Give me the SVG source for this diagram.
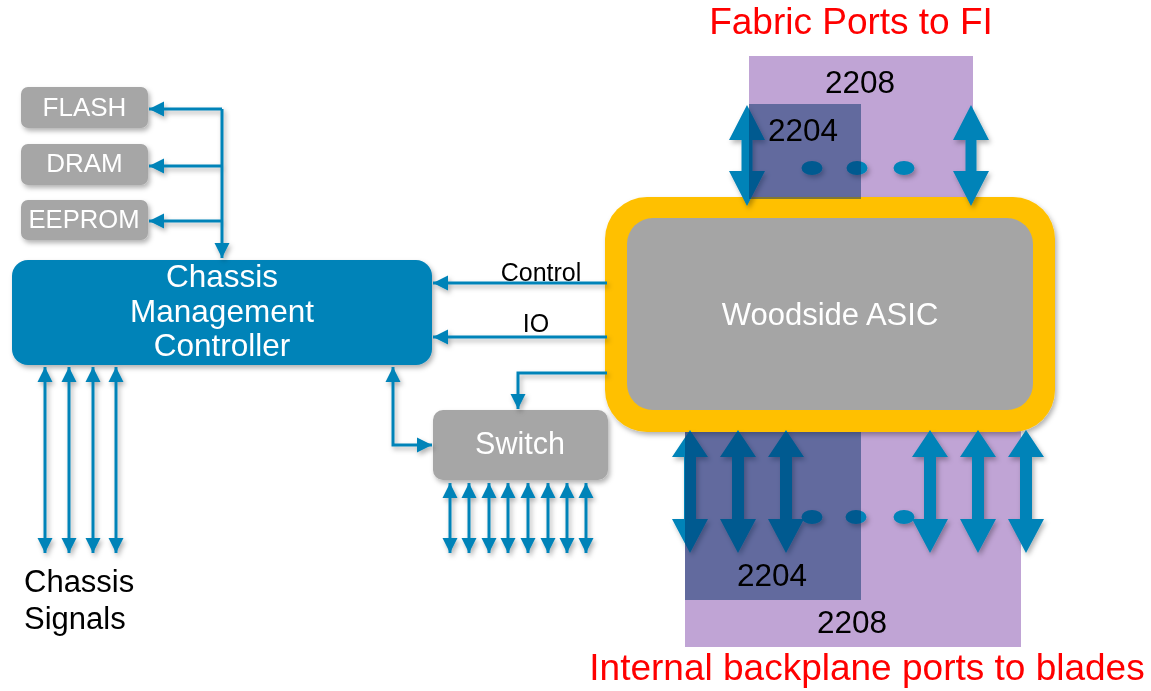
<svg xmlns="http://www.w3.org/2000/svg" xmlns:xlink="http://www.w3.org/1999/xlink" width="1151" height="691" viewBox="0 0 1151 691">
<defs>
<style>
text{font-family:"Liberation Sans",Arial,sans-serif}
.gbox{fill:#A6A6A6}
.wt{fill:#FFFFFF;text-anchor:middle}
.bt{fill:#000000;text-anchor:middle}
.red{fill:#FF0000;text-anchor:middle;font-size:37px}
.conn{fill:none;stroke:#0583B8;stroke-width:3}
.thick{fill:#0583B8}
.purple{fill:#C0A4D5}
.ov{fill:#002E65;fill-opacity:0.49}
.dot{fill:#0583B8}
</style>
<filter id="sh" x="-20%" y="-20%" width="140%" height="140%">
<feDropShadow dx="2" dy="3" stdDeviation="2.5" flood-color="#000" flood-opacity="0.3"/>
</filter>
<marker id="ah" markerUnits="userSpaceOnUse" markerWidth="16" markerHeight="16" refX="15" refY="8" orient="auto-start-reverse" viewBox="0 0 16 16">
<path d="M0,0.5 L15,8 L0,15.5 z" fill="#0583B8"/>
</marker>
<path id="tarrow" d="M0,0 L18,35 L5.5,35 L5.5,66 L18,66 L0,101 L-18,66 L-5.5,66 L-5.5,35 L-18,35 z"/>
<path id="barrow" d="M0,0 L18,27 L6,27 L6,89 L18,89 L0,123 L-18,89 L-6,89 L-6,27 L-18,27 z"/>
</defs>
<rect width="1151" height="691" fill="#FFFFFF"/>

<!-- purple port regions (behind ASIC) -->
<g id="fabric-ports-2208">
<rect class="purple" x="749" y="56" width="224" height="160"/>
</g>
<g id="backplane-ports-2208">
<rect class="purple" x="685" y="415" width="336" height="232"/>
</g>

<g id="flash" filter="url(#sh)">
<rect class="gbox" x="21" y="87" width="127" height="41" rx="7"/>
<text class="wt" x="84.5" y="116" font-size="26">FLASH</text>
</g>
<g id="dram" filter="url(#sh)">
<rect class="gbox" x="21" y="144" width="127" height="41" rx="7"/>
<text class="wt" x="84.5" y="172" font-size="26">DRAM</text>
</g>
<g id="eeprom" filter="url(#sh)">
<rect class="gbox" x="21" y="200" width="127" height="40" rx="7"/>
<text class="wt" x="84" y="228" font-size="26" textLength="111" lengthAdjust="spacingAndGlyphs">EEPROM</text>
</g>

<g id="cmc" filter="url(#sh)">
<rect x="12" y="260" width="420" height="105" rx="16" fill="#0583B8"/>
<text class="wt" x="222" y="287" font-size="31.5">Chassis</text>
<text class="wt" x="222" y="322" font-size="31.5">Management</text>
<text class="wt" x="222" y="356" font-size="31.5">Controller</text>
</g>

<g id="switch" filter="url(#sh)">
<rect class="gbox" x="433" y="410" width="175" height="70" rx="10"/>
<text class="wt" x="520" y="454" font-size="30.5">Switch</text>
</g>

<g id="asic" filter="url(#sh)">
<rect x="605" y="197" width="450" height="235" rx="42" fill="#FFC000"/>
<rect x="627" y="218" width="406" height="192" rx="26" fill="#A5A5A5"/>
<text class="wt" x="830" y="325" font-size="31">Woodside ASIC</text>
</g>

<g id="connectors">
<g filter="url(#sh)">
<path class="conn" d="M222,109 V258" marker-end="url(#ah)"/>
<path class="conn" d="M222,109 H149" marker-end="url(#ah)"/>
<path class="conn" d="M222,166 H149" marker-end="url(#ah)"/>
<path class="conn" d="M222,221 H149" marker-end="url(#ah)"/>
<path class="conn" d="M607,283 H433" marker-end="url(#ah)"/>
<path class="conn" d="M607,337 H433" marker-end="url(#ah)"/>
<path class="conn" d="M607,373 H518 V409" marker-end="url(#ah)"/>
<path class="conn" d="M393,367 V445 H432" marker-start="url(#ah)" marker-end="url(#ah)"/>
<path class="conn" d="M45,367 V553" marker-start="url(#ah)" marker-end="url(#ah)"/>
<path class="conn" d="M69,367 V553" marker-start="url(#ah)" marker-end="url(#ah)"/>
<path class="conn" d="M93,367 V553" marker-start="url(#ah)" marker-end="url(#ah)"/>
<path class="conn" d="M116,367 V553" marker-start="url(#ah)" marker-end="url(#ah)"/>
<path class="conn" d="M450,483 V553" marker-start="url(#ah)" marker-end="url(#ah)"/>
<path class="conn" d="M469,483 V553" marker-start="url(#ah)" marker-end="url(#ah)"/>
<path class="conn" d="M489,483 V553" marker-start="url(#ah)" marker-end="url(#ah)"/>
<path class="conn" d="M508,483 V553" marker-start="url(#ah)" marker-end="url(#ah)"/>
<path class="conn" d="M528,483 V553" marker-start="url(#ah)" marker-end="url(#ah)"/>
<path class="conn" d="M548,483 V553" marker-start="url(#ah)" marker-end="url(#ah)"/>
<path class="conn" d="M567,483 V553" marker-start="url(#ah)" marker-end="url(#ah)"/>
<path class="conn" d="M586,483 V553" marker-start="url(#ah)" marker-end="url(#ah)"/>
</g>
<g filter="url(#sh)">
<use href="#tarrow" xlink:href="#tarrow" class="thick" x="747" y="105"/>
<use href="#tarrow" xlink:href="#tarrow" class="thick" x="971" y="105"/>
<use href="#barrow" xlink:href="#barrow" class="thick" x="690" y="430"/>
<use href="#barrow" xlink:href="#barrow" class="thick" x="738" y="430"/>
<use href="#barrow" xlink:href="#barrow" class="thick" x="786" y="430"/>
<use href="#barrow" xlink:href="#barrow" class="thick" x="930" y="430"/>
<use href="#barrow" xlink:href="#barrow" class="thick" x="978" y="430"/>
<use href="#barrow" xlink:href="#barrow" class="thick" x="1026" y="430"/>
<ellipse class="dot" cx="812" cy="168" rx="10.5" ry="7"/>
<ellipse class="dot" cx="857" cy="168" rx="10.5" ry="7"/>
<ellipse class="dot" cx="904" cy="168" rx="10.5" ry="7"/>
<ellipse class="dot" cx="812" cy="517" rx="10.5" ry="7"/>
<ellipse class="dot" cx="856" cy="517" rx="10.5" ry="7"/>
<ellipse class="dot" cx="904" cy="517" rx="10.5" ry="7"/>
</g>
<text x="541" y="281" font-size="25" class="bt">Control</text>
<text x="536" y="332" font-size="25" class="bt">IO</text>
</g>

<g id="fabric-ports-2204">
<rect class="ov" x="749" y="104" width="112" height="95"/>
</g>
<g id="backplane-ports-2204">
<rect class="ov" x="685" y="432" width="176" height="168"/>
</g>

<g id="labels">
<text class="bt" x="860" y="93" font-size="31.5">2208</text>
<text class="bt" x="803" y="141" font-size="31.5">2204</text>
<text class="bt" x="772" y="586" font-size="31.5">2204</text>
<text class="bt" x="852" y="633" font-size="31.5">2208</text>
<text class="red" x="851" y="34">Fabric Ports to FI</text>
<text class="red" x="867" y="680">Internal backplane ports to blades</text>
<text x="24" y="592" font-size="31" fill="#000">Chassis</text>
<text x="24" y="629" font-size="31" fill="#000">Signals</text>
</g>
</svg>
